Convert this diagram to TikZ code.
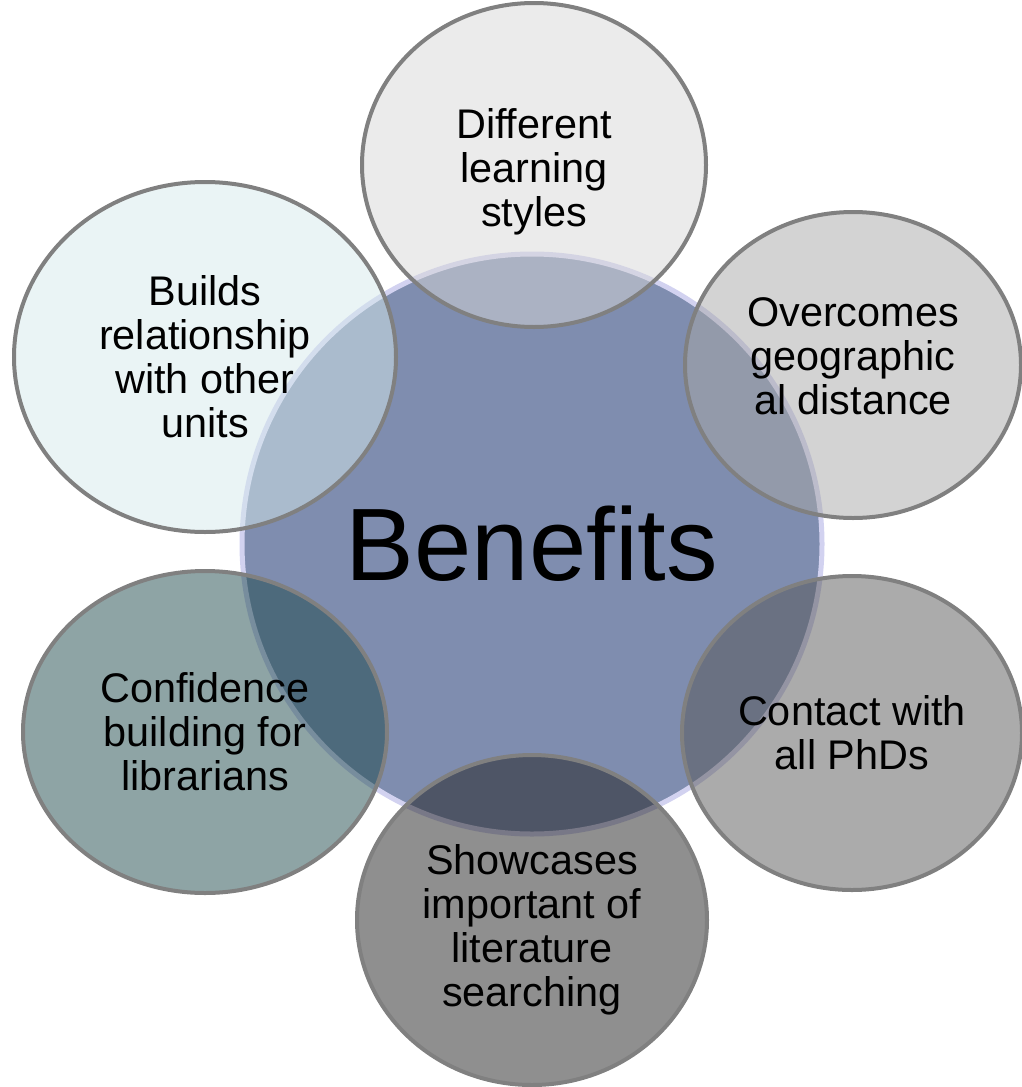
\documentclass[tikz,border=0pt]{standalone}
\usepackage{fontspec}
\setmainfont{Liberation Sans}
\usepackage{tikz}
\usetikzlibrary{shapes,positioning,backgrounds}

\definecolor{hubfill}{HTML}{7F8DAF}
\definecolor{hubline}{HTML}{D2D2F0}
\definecolor{ringline}{HTML}{808080}

\begin{document}
\begin{tikzpicture}[x=0.5pt, y=-0.5pt]
    % Styles
    \tikzstyle{hub} = [circle, draw=hubline, line width=2.5pt, fill=hubfill, minimum size=290pt, inner sep=0pt, font=\fontsize{51.5}{56}\selectfont]
    \tikzstyle{petal} = [ellipse, draw=ringline, line width=2pt, fill opacity=0.5, inner sep=0pt]
    \tikzstyle{caption} = [inner sep=0pt, align=center, font=\fontsize{20.7}{22}\selectfont]

    \useasboundingbox (0,0) rectangle (1022,1087);

    % Centre
    \node [hub] (benefits) at (532,544) {Benefits};

    % Ellipses
    \node [petal, fill={rgb,255:red,215;green,215;blue,215}, minimum width=172pt, minimum height=162pt] (styles) at (534,165) {};
    \node [petal, fill={rgb,255:red,167;green,167;blue,167}, minimum width=168pt, minimum height=153pt] (distance) at (853,365) {};
    \node [petal, fill={rgb,255:red,87;green,87;blue,87}, minimum width=170pt, minimum height=157pt] (phds) at (852,733) {};
    \node [petal, fill={rgb,255:red,31;green,31;blue,31}, minimum width=175pt, minimum height=165pt] (searching) at (532,920) {};
    \node [petal, fill={rgb,255:red,29;green,73;blue,75}, minimum width=182pt, minimum height=161pt] (librarians) at (205,732) {};
    \node [petal, fill={rgb,255:red,213;green,233;blue,235}, minimum width=191pt, minimum height=175pt] (units) at (205,357) {};

    % Texts
    \node [caption] (styles-text) at (534,172) {Different\\learning\\styles};
    \node [caption] (distance-text) at (853,356) {Overcomes\\geographic\\al distance};
    \node [caption] (phds-text) at (852,733) {Contact with\\all PhDs};
    \node [caption] (searching-text) at (532,930) {Showcases\\important of\\literature\\searching};
    \node [caption] (librarians-text) at (205,732) {Confidence\\building for\\librarians};
    \node [caption] (units-text) at (205,357) {Builds\\relationship\\with other\\units};
\end{tikzpicture}
\end{document}
